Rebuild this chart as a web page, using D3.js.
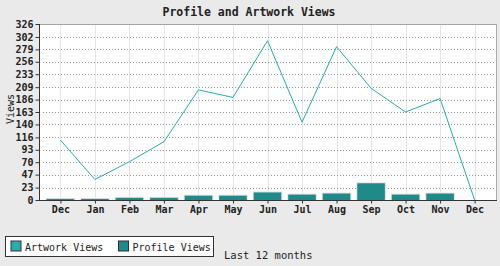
<!DOCTYPE html>
<html>
<head>
<meta charset="utf-8">
<script src="https://cdn.jsdelivr.net/npm/d3@7"></script>
<style>
	body { margin: 0; background: #eaeaea; }
	svg { display: block; }
</style>
</head>
<body>
<svg id="chart" width="500" height="266"></svg>
<script>

var months = ["Dec", "Jan", "Feb", "Mar", "Apr", "May", "Jun", "Jul", "Aug", "Sep", "Oct", "Nov", "Dec"];
var artworkViews = [111, 38, 71, 108, 204, 190, 295, 144, 284, 207, 163, 188, 0];
var profileViews = [2, 2, 4, 4, 8, 8, 14, 10, 12, 31, 10, 12, 0];
var yTicks = [0, 23, 47, 70, 93, 116, 140, 163, 186, 209, 233, 256, 279, 302, 326];

var fontFamily = "'DejaVu Sans Mono', 'Liberation Mono', monospace";
var lineColor = "#2aacac";
var barColor = "#1f8a8a";

function renderChart(element) {

	var width = 500;
	var height = 266;

	var margin = {
		top : 24,
		bottom : 66,
		left: 39,
		right: 4
	};

	var svg = d3.select(element);

	var xScale = d3.scalePoint()
		.domain(d3.range(months.length))
		.range([margin.left, width - margin.right])
		.padding(0.62);

	var yScale = d3.scaleLinear()
		.domain([0, 326])
		.range([height - margin.bottom, margin.top]);

	var step = xScale.step();

	// plot background + light frame
	svg.append("rect")
		.attr("x", margin.left + 0.5)
		.attr("y", margin.top + 0.5)
		.attr("width", width - margin.left - margin.right)
		.attr("height", height - margin.top - margin.bottom)
		.attr("fill", "white")
		.attr("stroke", "#aaaaaa")
		.attr("stroke-width", 1);

	// vertical grid
	svg.append("g")
		.selectAll("line")
		.data(months)
		.enter()
		.append("line")
		.attr("x1", (d, i) => Math.round(xScale(i)) + 0.5)
		.attr("x2", (d, i) => Math.round(xScale(i)) + 0.5)
		.attr("y1", margin.top + 1)
		.attr("y2", yScale(0))
		.attr("stroke", "#e6e6e6")
		.attr("stroke-width", 1);

	// horizontal dotted grid
	svg.append("g")
		.selectAll("line")
		.data(yTicks.slice(1))
		.enter()
		.append("line")
		.attr("x1", margin.left + 4)
		.attr("x2", width - margin.right - 2)
		.attr("y1", d => Math.round(yScale(d)) + 0.5)
		.attr("y2", d => Math.round(yScale(d)) + 0.5)
		.attr("stroke", "#999999")
		.attr("stroke-width", 1)
		.attr("stroke-dasharray", "1,2");

	// profile views bars (light outline drawn behind so short bars stay visible)
	var bars = svg.append("g").attr("class", "bars");
	profileViews.forEach(function(v, i) {
		if (v <= 0) return;
		var x0 = xScale(i) - step * 0.4;
		bars.append("rect")
			.attr("x", x0 - 1)
			.attr("y", yScale(v) - 1)
			.attr("width", step * 0.8 + 2)
			.attr("height", yScale(0) - yScale(v) + 1)
			.attr("fill", "#e4e4e4");
		bars.append("rect")
			.attr("x", x0)
			.attr("y", yScale(v))
			.attr("width", step * 0.8)
			.attr("height", yScale(0) - yScale(v))
			.attr("fill", barColor);
	});

	// artwork views line
	var line = d3.line()
		.x((d, i) => xScale(i))
		.y(d => yScale(d));

	svg.append("path")
		.datum(artworkViews)
		.attr("d", line)
		.attr("fill", "none")
		.attr("stroke", lineColor)
		.attr("stroke-width", 1);

	// axes
	var yAxis = d3.axisLeft(yScale)
		.tickValues(yTicks)
		.tickSize(4)
		.tickPadding(2);

	var gy = svg.append("g")
		.attr("transform", "translate(" + (margin.left + 0.5) + ",0)")
		.call(yAxis);

	var xAxis = d3.axisBottom(xScale)
		.tickFormat(i => months[i])
		.tickSize(3)
		.tickSizeOuter(0)
		.tickPadding(2);

	var gx = svg.append("g")
		.attr("transform", "translate(0," + (yScale(0) + 0.5) + ")")
		.call(xAxis);

	gx.select(".domain").attr("d", "M" + margin.left + ",0H" + (width - margin.right + 1));

	[gx, gy].forEach(function(g) {
		g.select(".domain").attr("stroke", "#333333");
		g.selectAll(".tick line").attr("stroke", "#333333");
		g.selectAll("text")
			.attr("font-family", fontFamily)
			.attr("font-size", 10)
			.attr("font-weight", "bold")
			.attr("fill", "#222222");
	});

	gy.select(".domain").attr("d", "M0," + margin.top + "V" + yScale(0));

	// title
	svg.append("text")
		.attr("x", 249)
		.attr("y", 16)
		.attr("text-anchor", "middle")
		.attr("font-family", fontFamily)
		.attr("font-size", 11.5)
		.attr("font-weight", "bold")
		.attr("fill", "#222222")
		.text("Profile and Artwork Views");

	// y axis label
	svg.append("text")
		.attr("transform", "translate(14,109) rotate(-90)")
		.attr("text-anchor", "middle")
		.attr("font-family", fontFamily)
		.attr("font-size", 10)
		.attr("fill", "#222222")
		.text("Views");

	// legend
	var legend = svg.append("g").attr("transform", "translate(5.5,236.5)");

	legend.append("rect")
		.attr("width", 208)
		.attr("height", 20)
		.attr("fill", "white")
		.attr("stroke", "#333333")
		.attr("stroke-width", 1);

	var entries = [
		{ label: "Artwork Views", color: lineColor, x: 5.5 },
		{ label: "Profile Views", color: barColor, x: 113 }
	];

	entries.forEach(function(e) {
		legend.append("rect")
			.attr("x", e.x)
			.attr("y", 4.5)
			.attr("width", 10)
			.attr("height", 10)
			.attr("fill", e.color)
			.attr("stroke", "#333333");

		legend.append("text")
			.attr("x", e.x + 14)
			.attr("y", 14)
			.attr("font-family", fontFamily)
			.attr("font-size", 10)
			.attr("fill", "#222222")
			.text(e.label);
	});

	svg.append("text")
		.attr("x", 224)
		.attr("y", 259)
		.attr("font-family", fontFamily)
		.attr("font-size", 10.5)
		.attr("fill", "#222222")
		.text("Last 12 months");

}

renderChart("#chart");

</script>
</body>
</html>
